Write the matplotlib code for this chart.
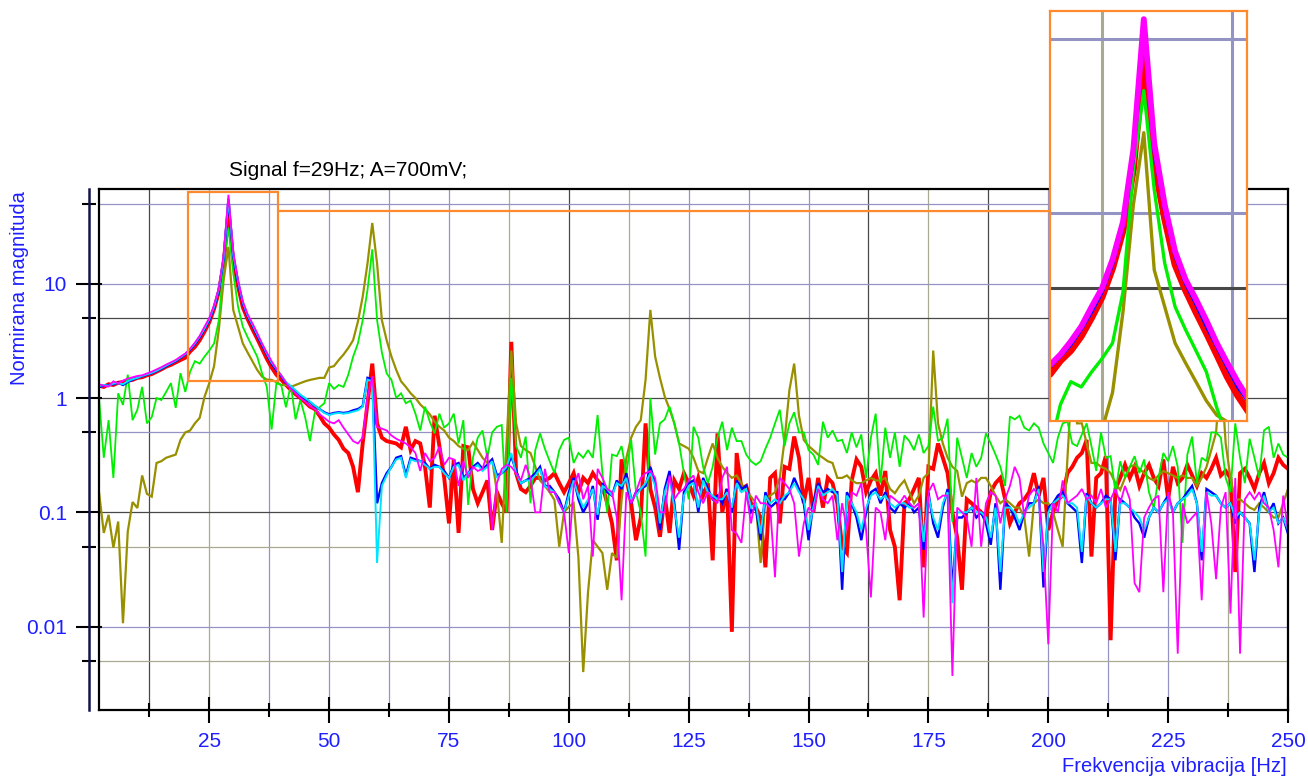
import numpy as np
import matplotlib
matplotlib.use("Agg")
import matplotlib.pyplot as plt
from matplotlib.patches import Rectangle, ConnectionPatch

plt.rcParams['font.family'] = ['Liberation Sans', 'DejaVu Sans']

# spektar, 1 Hz koraci od 2 do 250 Hz
freq = np.arange(2, 251)

red = [1.28, 1.25, 1.32, 1.30, 1.36, 1.38, 1.42, 1.44, 1.50, 1.52,
       1.58, 1.62, 1.70, 1.78, 1.88, 1.95, 2.05, 2.15, 2.25, 2.55,
       2.8, 3.2, 3.8, 4.6, 6.0, 8.5, 15, 42, 16, 9.5,
       6.2, 4.9, 4.0, 3.3, 2.7, 2.2, 1.85, 1.6, 1.45, 1.3,
       1.18, 1.08, 1.0, 0.92, 0.84, 0.8, 0.7, 0.6, 0.55, 0.48,
       0.43, 0.36, 0.33, 0.25, 0.15, 0.4, 0.9, 2.0, 0.6, 0.45,
       0.42, 0.41, 0.40, 0.37, 0.56, 0.35, 0.42, 0.40, 0.25, 0.11,
       0.7, 0.38, 0.2, 0.08, 0.29, 0.066, 0.38, 0.37, 0.16, 0.12,
       0.15, 0.19, 0.07, 0.15, 0.12, 0.1, 3.1, 0.22, 0.16, 0.15,
       0.17, 0.2, 0.2, 0.19, 0.2, 0.22, 0.18, 0.15, 0.18, 0.22,
       0.15, 0.2, 0.18, 0.22, 0.19, 0.17, 0.12, 0.08, 0.038, 0.29,
       0.2, 0.12, 0.057, 0.09, 0.6, 0.16, 0.11, 0.061, 0.14, 0.066,
       0.19, 0.16, 0.22, 0.18, 0.14, 0.2, 0.14, 0.18, 0.038, 0.49,
       0.1, 0.16, 0.009, 0.33, 0.16, 0.17, 0.12, 0.11, 0.09, 0.033,
       0.2, 0.22, 0.08, 0.25, 0.24, 0.46, 0.3, 0.12, 0.2, 0.1,
       0.2, 0.11, 0.2, 0.18, 0.12, 0.05, 0.044, 0.19, 0.29, 0.25,
       0.15, 0.19, 0.22, 0.14, 0.23, 0.07, 0.05, 0.017, 0.12, 0.13,
       0.16, 0.2, 0.033, 0.25, 0.24, 0.4, 0.3, 0.22, 0.1, 0.06,
       0.021, 0.13, 0.12, 0.11, 0.1, 0.09, 0.15, 0.18, 0.2, 0.13,
       0.08, 0.1, 0.12, 0.13, 0.15, 0.22, 0.14, 0.2, 0.07, 0.1,
       0.13, 0.14, 0.22, 0.25, 0.3, 0.33, 0.43, 0.041, 0.2, 0.22,
       0.31, 0.0076, 0.16, 0.2, 0.26, 0.2, 0.25, 0.17, 0.22, 0.26,
       0.2, 0.17, 0.29, 0.13, 0.25, 0.18, 0.2, 0.26, 0.21, 0.17,
       0.22, 0.2, 0.24, 0.3, 0.21, 0.23, 0.2, 0.03, 0.22, 0.24,
       0.2, 0.16, 0.22, 0.27, 0.18, 0.22, 0.3, 0.26, 0.24]

blue = [1.25, 1.28, 1.30, 1.32, 1.36, 1.30, 1.38, 1.45, 1.50, 1.55,
        1.60, 1.65, 1.72, 1.80, 1.90, 2.0, 2.1, 2.25, 2.4, 2.65,
        2.95, 3.4, 4.0, 4.8, 6.2, 8.8, 16.5, 55, 17.5, 10.2,
        6.7, 5.2, 4.3, 3.5, 2.9, 2.4, 2.0, 1.75, 1.55, 1.35,
        1.25, 1.15, 1.05, 0.98, 0.92, 0.85, 0.8, 0.75, 0.72, 0.74,
        0.75, 0.74, 0.75, 0.78, 0.8, 0.85, 1.5, 1.45, 0.12, 0.18,
        0.22, 0.25, 0.3, 0.31, 0.21, 0.3, 0.29, 0.28, 0.27, 0.24,
        0.26, 0.25, 0.23, 0.2, 0.26, 0.27, 0.2, 0.22, 0.25, 0.27,
        0.24, 0.26, 0.29, 0.21, 0.22, 0.24, 0.31, 0.23, 0.18, 0.19,
        0.2, 0.22, 0.25, 0.17, 0.17, 0.15, 0.13, 0.1, 0.15, 0.2,
        0.13, 0.1, 0.12, 0.17, 0.086, 0.18, 0.15, 0.14, 0.19, 0.16,
        0.22, 0.12, 0.15, 0.16, 0.17, 0.25, 0.18, 0.07, 0.16, 0.23,
        0.12, 0.047, 0.15, 0.18, 0.19, 0.1, 0.2, 0.16, 0.13, 0.14,
        0.12, 0.16, 0.1, 0.19, 0.16, 0.17, 0.1, 0.11, 0.057, 0.15,
        0.11, 0.12, 0.13, 0.13, 0.15, 0.2, 0.16, 0.12, 0.057, 0.12,
        0.18, 0.15, 0.16, 0.15, 0.15, 0.021, 0.15, 0.12, 0.09, 0.057,
        0.1, 0.15, 0.16, 0.12, 0.15, 0.11, 0.1, 0.12, 0.11, 0.12,
        0.1, 0.11, 0.047, 0.15, 0.08, 0.06, 0.11, 0.16, 0.02, 0.09,
        0.09, 0.1, 0.11, 0.09, 0.1, 0.08, 0.052, 0.12, 0.021, 0.12,
        0.11, 0.09, 0.07, 0.1, 0.12, 0.12, 0.17, 0.022, 0.11, 0.12,
        0.14, 0.15, 0.12, 0.11, 0.1, 0.036, 0.147, 0.12, 0.11, 0.12,
        0.14, 0.13, 0.038, 0.13, 0.12, 0.11, 0.09, 0.08, 0.06, 0.09,
        0.11, 0.1, 0.12, 0.14, 0.1, 0.12, 0.13, 0.15, 0.17, 0.12,
        0.038, 0.16, 0.15, 0.14, 0.12, 0.11, 0.12, 0.08, 0.1, 0.09,
        0.08, 0.03, 0.11, 0.15, 0.1, 0.12, 0.08, 0.09, 0.065]

cyan = [1.27, 1.30, 1.28, 1.34, 1.35, 1.32, 1.40, 1.46, 1.50, 1.56,
        1.61, 1.66, 1.73, 1.82, 1.92, 2.02, 2.12, 2.27, 2.42, 2.68,
        3.0, 3.45, 4.05, 4.9, 6.3, 9.0, 17, 56, 18, 10.5,
        6.9, 5.3, 4.4, 3.6, 3.0, 2.45, 2.05, 1.8, 1.58, 1.38,
        1.27, 1.17, 1.07, 1.0, 0.93, 0.86, 0.8, 0.74, 0.71, 0.73,
        0.74, 0.73, 0.74, 0.76, 0.78, 0.84, 1.45, 1.4, 0.036, 0.17,
        0.21, 0.25, 0.29, 0.3, 0.2, 0.29, 0.28, 0.28, 0.26, 0.24,
        0.25, 0.25, 0.22, 0.2, 0.25, 0.26, 0.19, 0.22, 0.24, 0.26,
        0.23, 0.25, 0.28, 0.2, 0.22, 0.25, 0.33, 0.22, 0.18, 0.19,
        0.19, 0.21, 0.24, 0.17, 0.16, 0.15, 0.12, 0.1, 0.14, 0.19,
        0.14, 0.11, 0.13, 0.16, 0.095, 0.17, 0.16, 0.14, 0.18, 0.17,
        0.2, 0.13, 0.14, 0.16, 0.18, 0.22, 0.17, 0.08, 0.15, 0.2,
        0.11, 0.06, 0.14, 0.17, 0.18, 0.11, 0.19, 0.15, 0.14, 0.13,
        0.13, 0.15, 0.11, 0.18, 0.15, 0.16, 0.11, 0.12, 0.065, 0.14,
        0.12, 0.13, 0.12, 0.14, 0.15, 0.18, 0.15, 0.13, 0.07, 0.11,
        0.17, 0.14, 0.15, 0.16, 0.14, 0.03, 0.14, 0.12, 0.1, 0.07,
        0.11, 0.14, 0.15, 0.13, 0.14, 0.12, 0.11, 0.12, 0.12, 0.11,
        0.11, 0.12, 0.055, 0.14, 0.09, 0.07, 0.12, 0.15, 0.016, 0.1,
        0.1, 0.1, 0.11, 0.1, 0.1, 0.09, 0.06, 0.11, 0.03, 0.11,
        0.11, 0.1, 0.08, 0.1, 0.11, 0.12, 0.16, 0.03, 0.1, 0.12,
        0.13, 0.14, 0.12, 0.12, 0.11, 0.045, 0.14, 0.12, 0.11, 0.12,
        0.13, 0.13, 0.045, 0.12, 0.12, 0.11, 0.1, 0.09, 0.07, 0.09,
        0.11, 0.1, 0.12, 0.13, 0.1, 0.12, 0.13, 0.14, 0.16, 0.12,
        0.045, 0.15, 0.14, 0.14, 0.12, 0.11, 0.12, 0.09, 0.1, 0.09,
        0.08, 0.038, 0.1, 0.14, 0.1, 0.11, 0.08, 0.09, 0.07]

magenta = [1.32, 1.28, 1.26, 1.40, 1.34, 1.42, 1.48, 1.52, 1.56, 1.58,
           1.64, 1.70, 1.78, 1.86, 1.96, 2.05, 2.15, 2.3, 2.45, 2.7,
           3.05, 3.5, 4.2, 5.0, 6.5, 9.2, 18, 60, 19, 10.8,
           7.0, 5.4, 4.5, 3.7, 3.0, 2.5, 2.1, 1.8, 1.58, 1.36,
           1.2, 1.1, 1.0, 0.93, 0.85, 0.8, 0.72, 0.67, 0.62, 0.6,
           0.64, 0.55, 0.48, 0.42, 0.4, 0.45, 1.0, 1.55, 0.56, 0.54,
           0.52, 0.47, 0.44, 0.42, 0.4, 0.37, 0.33, 0.23, 0.33, 0.28,
           0.3, 0.375, 0.26, 0.3, 0.29, 0.17, 0.28, 0.2, 0.25, 0.23,
           0.24, 0.33, 0.07, 0.18, 0.24, 0.26, 0.25, 0.22, 0.19, 0.26,
           0.2, 0.1, 0.1, 0.24, 0.15, 0.15, 0.12, 0.1, 0.044, 0.17,
           0.22, 0.13, 0.17, 0.041, 0.24, 0.2, 0.16, 0.15, 0.09, 0.017,
           0.15, 0.12, 0.15, 0.2, 0.22, 0.23, 0.2, 0.1, 0.1, 0.21,
           0.13, 0.15, 0.16, 0.19, 0.21, 0.15, 0.12, 0.15, 0.13, 0.12,
           0.2, 0.25, 0.07, 0.065, 0.054, 0.15, 0.08, 0.14, 0.12, 0.12,
           0.11, 0.027, 0.2, 0.18, 0.16, 0.12, 0.041, 0.08, 0.11, 0.1,
           0.16, 0.13, 0.12, 0.14, 0.057, 0.12, 0.07, 0.15, 0.14, 0.18,
           0.07, 0.018, 0.11, 0.1, 0.057, 0.14, 0.13, 0.12, 0.14, 0.12,
           0.11, 0.12, 0.012, 0.15, 0.18, 0.13, 0.14, 0.14, 0.0037, 0.11,
           0.1, 0.09, 0.05, 0.2, 0.05, 0.12, 0.15, 0.14, 0.08, 0.13,
           0.17, 0.25, 0.2, 0.09, 0.14, 0.16, 0.14, 0.05, 0.007, 0.12,
           0.1, 0.19, 0.12, 0.13, 0.14, 0.16, 0.13, 0.14, 0.12, 0.16,
           0.11, 0.13, 0.16, 0.12, 0.17, 0.13, 0.024, 0.02, 0.09, 0.11,
           0.13, 0.14, 0.02, 0.15, 0.1, 0.0058, 0.12, 0.08, 0.09, 0.1,
           0.017, 0.15, 0.08, 0.026, 0.11, 0.15, 0.013, 0.2, 0.0058, 0.13,
           0.15, 0.13, 0.15, 0.12, 0.11, 0.07, 0.033, 0.14, 0.07]

green = [1.0, 0.3, 0.64, 0.2, 1.1, 0.87, 1.6, 0.64, 0.79, 1.25,
         0.6, 0.68, 1.0, 0.96, 1.13, 1.35, 0.82, 1.65, 1.13, 1.7,
         2.1, 2.0, 2.3, 2.6, 3.0, 4.8, 15, 31, 12.4, 6.3,
         4.2, 3.4, 2.8, 2.3, 1.65, 1.25, 0.53, 1.35, 1.3, 0.83,
         1.3, 0.65, 0.96, 0.68, 0.42, 0.74, 0.83, 0.9, 1.35, 1.2,
         1.3, 1.25, 1.6, 2.3, 3.0, 4.8, 8.8, 20, 4.8, 2.5,
         1.64, 1.44, 1.0, 1.1, 0.9, 0.95, 0.73, 0.52, 0.84, 0.62,
         0.49, 0.73, 0.55, 0.6, 0.73, 0.4, 0.64, 0.116, 0.3, 0.45,
         0.52, 0.3, 0.5, 0.56, 0.58, 0.1, 1.5, 0.38, 0.3, 0.46,
         0.12, 0.35, 0.49, 0.36, 0.28, 0.22, 0.35, 0.43, 0.45, 0.27,
         0.33, 0.3, 0.35, 0.3, 0.71, 0.22, 0.1, 0.32, 0.31, 0.38,
         0.22, 0.43, 0.15, 0.1, 0.041, 1.0, 0.32, 0.6, 0.65, 0.84,
         0.6, 0.4, 0.22, 0.13, 0.56, 0.45, 0.25, 0.18, 0.25, 0.45,
         0.62, 0.35, 0.55, 0.42, 0.42, 0.32, 0.28, 0.26, 0.28, 0.36,
         0.45, 0.6, 0.79, 0.38, 0.6, 0.75, 0.5, 0.5, 0.35, 0.32,
         0.26, 0.62, 0.45, 0.52, 0.42, 0.43, 0.33, 0.5, 0.37, 0.48,
         0.2, 0.45, 0.73, 0.18, 0.55, 0.3, 0.5, 0.25, 0.47, 0.42,
         0.35, 0.48, 0.33, 0.38, 0.84, 0.42, 0.45, 0.66, 0.082, 0.45,
         0.3, 0.2, 0.33, 0.25, 0.3, 0.49, 0.4, 0.32, 0.25, 0.17,
         0.69, 0.65, 0.7, 0.55, 0.52, 0.6, 0.55, 0.4, 0.33, 0.27,
         0.45, 0.6, 0.62, 0.4, 0.38, 0.48, 0.6, 0.38, 0.23, 0.5,
         0.3, 0.31, 0.15, 0.28, 0.2, 0.25, 0.31, 0.22, 0.29, 0.15,
         0.11, 0.2, 0.33, 0.28, 0.38, 0.25, 0.054, 0.32, 0.46, 0.18,
         0.3, 0.28, 0.5, 0.5, 0.45, 0.2, 0.15, 0.6, 0.3, 0.18,
         0.44, 0.3, 0.2, 0.52, 0.56, 0.3, 0.4, 0.32, 0.3]

olive = [0.15, 0.066, 0.095, 0.049, 0.083, 0.0107, 0.068, 0.123, 0.109, 0.21,
         0.145, 0.137, 0.27, 0.28, 0.30, 0.31, 0.32, 0.43, 0.5, 0.52,
         0.6, 0.67, 1.02, 1.35, 1.9, 4.0, 10.8, 21, 5.9, 4.2,
         3.0, 2.5, 2.1, 1.76, 1.54, 1.45, 1.44, 1.38, 1.3, 1.3,
         1.25, 1.3, 1.35, 1.4, 1.44, 1.47, 1.5, 1.5, 1.85, 1.9,
         2.15, 2.4, 2.74, 3.2, 4.65, 7.7, 15, 34, 15, 4.8,
         3.2, 2.3, 1.76, 1.4, 1.25, 1.1, 1.0, 0.88, 0.8, 0.72,
         0.62, 0.56, 0.52, 0.45, 0.42, 0.38, 0.36, 0.35, 0.41, 0.35,
         0.3, 0.27, 0.29, 0.15, 0.054, 0.4, 2.6, 0.6, 0.38, 0.35,
         0.33, 0.25, 0.19, 0.17, 0.15, 0.128, 0.05, 0.1, 0.112, 0.12,
         0.04, 0.004, 0.02, 0.057, 0.05, 0.044, 0.021, 0.044, 0.04, 0.128,
         0.3, 0.45, 0.56, 0.64, 1.44, 5.9, 2.3, 1.5, 1.03, 0.8,
         0.6, 0.4, 0.38, 0.36, 0.3, 0.23, 0.22, 0.3, 0.4, 0.3,
         0.25, 0.22, 0.2, 0.21, 0.18, 0.15, 0.137, 0.12, 0.036, 0.13,
         0.14, 0.15, 0.2, 0.43, 1.17, 2.0, 0.7, 0.43, 0.38, 0.35,
         0.32, 0.3, 0.28, 0.27, 0.2, 0.2, 0.21, 0.19, 0.18, 0.18,
         0.19, 0.2, 0.19, 0.19, 0.2, 0.16, 0.147, 0.17, 0.19, 0.15,
         0.12, 0.14, 0.2, 0.22, 2.6, 0.6, 0.4, 0.3, 0.25, 0.23,
         0.137, 0.18, 0.19, 0.18, 0.2, 0.2, 0.17, 0.14, 0.12, 0.13,
         0.12, 0.11, 0.11, 0.09, 0.041, 0.12, 0.13, 0.12, 0.12, 0.1,
         0.07, 0.05, 0.3, 1.6, 0.6, 0.6, 0.4, 0.27, 0.27, 0.25,
         0.24, 0.22, 0.18, 0.157, 0.2, 0.25, 0.26, 0.24, 0.22, 0.2,
         0.19, 0.21, 0.23, 0.22, 0.21, 0.2, 0.21, 0.2, 0.2, 0.17,
         0.2, 0.25, 0.35, 0.5, 1.8, 0.4, 0.2, 0.128, 0.13, 0.12,
         0.11, 0.105, 0.12, 0.11, 0.1, 0.09, 0.09, 0.12, 0.16]

x_major = [25, 50, 75, 100, 125, 150, 175, 200, 225, 250]
x_minor = [12.5, 37.5, 62.5, 87.5, 112.5, 137.5, 162.5, 187.5, 212.5, 237.5]
y_major = [0.01, 0.1, 1, 10]
y_labels = ['0.01', '0.1', '1', '10']
y_minor = [0.005, 0.05, 0.5, 5, 50]

DARK, BLUEG, OLIVEG = '#484848', '#9494c4', '#aaaa92'
vgrid = [12.5, 25, 37.5, 50, 62.5, 75, 87.5, 100, 112.5, 125,
         137.5, 150, 162.5, 175, 187.5, 200, 212.5, 225, 237.5]
vgrid_col = [DARK, OLIVEG, BLUEG, BLUEG, BLUEG, BLUEG, OLIVEG, DARK, OLIVEG, BLUEG,
             BLUEG, BLUEG, DARK, OLIVEG, DARK, BLUEG, BLUEG, BLUEG, OLIVEG]
hgrid = [0.005, 0.01, 0.05, 0.1, 0.5, 1, 5, 10, 50]
hgrid_col = [OLIVEG, BLUEG, OLIVEG, DARK, BLUEG, DARK, DARK, BLUEG, BLUEG]

TXT = '#1e1eff'
ORANGE = '#ff8a2e'

series = [(red, '#ff0000', 2.8, 5.0),
          (olive, '#999000', 1.6, 2.4),
          (green, '#00ee00', 1.3, 2.4),
          (blue, '#0000ff', 1.7, 2.4),
          (cyan, '#00e5ff', 1.4, 1.0),
          (magenta, '#ff00ff', 1.3, 4.2)]

fig = plt.figure(figsize=(13.08, 7.78), dpi=100)
ax = fig.add_axes([99 / 1308, 68 / 778, 1189 / 1308, 521 / 778])
ax.set_yscale('log')
ax.set_xlim(2, 250)
ax.set_ylim(0.001863, 67.4)

for x, c in zip(vgrid, vgrid_col):
    ax.axvline(x, color=c, lw=0.9, zorder=0.5)
for y, c in zip(hgrid, hgrid_col):
    ax.axhline(y, color=c, lw=0.9, zorder=0.5)

for vals, col, lw, _ in series:
    ax.plot(freq, vals, color=col, lw=lw, solid_joinstyle='miter', zorder=2)

ax.set_xticks(x_major)
ax.set_xticklabels([str(v) for v in x_major])
ax.set_xticks(x_minor, minor=True)
ax.set_yticks(y_major)
ax.set_yticklabels(y_labels)
ax.set_yticks(y_minor, minor=True)
ax.yaxis.set_minor_formatter(plt.NullFormatter())
ax.tick_params(which='major', direction='inout', length=18.7, width=1.5,
               color='black', labelcolor=TXT, labelsize=15)
ax.tick_params(which='minor', direction='inout', length=10, width=1.5, color='black')
ax.tick_params(axis='x', which='major', pad=6.5)
ax.tick_params(axis='y', which='major', pad=6.5)

for s in ['top', 'right', 'bottom']:
    ax.spines[s].set_linewidth(1.6)
    ax.spines[s].set_color('black')
ax.spines['left'].set_position(('outward', 7.2))
ax.spines['left'].set_linewidth(1.8)
ax.spines['left'].set_color('#14144a')
ax.plot([0, 0], [0, 1], transform=ax.transAxes, color='black', lw=1.6,
        clip_on=False, zorder=5)

# okvir oko rezonantnog vrha
zx0, zx1, zy0, zy1 = 20.56, 39.34, 1.41, 63.4
ax.add_patch(Rectangle((zx0, zy0), zx1 - zx0, zy1 - zy0, fill=False,
                       edgecolor=ORANGE, lw=1.6, zorder=6, clip_on=False))

fig.text(348 / 1308, 1 - 170 / 778, 'Signal f=29Hz; A=700mV;', ha='center',
         va='center', fontsize=15, color='black')
fig.text(20 / 1308, 1 - 288 / 778, 'Normirana magnituda', rotation=90,
         ha='center', va='center', fontsize=14.5, color=TXT)
fig.text(1287 / 1308, 1 - 766 / 778, 'Frekvencija vibracija [Hz]', ha='right',
         va='center', fontsize=14.5, color=TXT)

# uvecani prikaz
axins = fig.add_axes([1050 / 1308, 357 / 778, 197 / 1308, 410 / 778])
axins.set_yscale('log')
axins.set_xlim(20.0, 38.9)
axins.set_ylim(1.46, 64.7)
axins.set_xticks([])
axins.set_yticks([])
axins.minorticks_off()
axins.axvline(25, color=OLIVEG, lw=2.2, zorder=0.5)
axins.axvline(37.5, color=BLUEG, lw=2.2, zorder=0.5)
axins.axhline(50, color=BLUEG, lw=2.2, zorder=0.5)
axins.axhline(10, color=BLUEG, lw=2.2, zorder=0.5)
axins.axhline(5, color=DARK, lw=2.2, zorder=0.5)
for vals, col, _, lw in series:
    axins.plot(freq, vals, color=col, lw=lw, zorder=2)
for s in axins.spines.values():
    s.set_color(ORANGE)
    s.set_linewidth(1.6)

con = ConnectionPatch(xyA=(zx1, 43.3), coordsA=ax.transData,
                      xyB=(0, 0.512), coordsB=axins.transAxes,
                      color=ORANGE, lw=1.6)
fig.add_artist(con)

fig.savefig('out.png', dpi=100, facecolor='white')
